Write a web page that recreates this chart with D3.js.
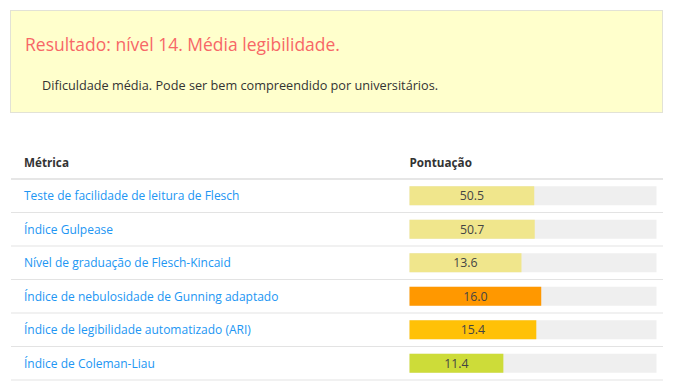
<!DOCTYPE html>
<html>
<head>
<meta charset="utf-8">
<script src="https://cdn.jsdelivr.net/npm/d3@7"></script>
<style>
body { margin: 0; background: #fff; }
text { font-family: "Segoe UI", "Open Sans", "Noto Sans", sans-serif; }
</style>
</head>
<body>
<div id="chart"></div>
<script>
var metrics = [
	"Teste de facilidade de leitura de Flesch",
	"Índice Gulpease",
	"Nível de graduação de Flesch-Kincaid",
	"Índice de nebulosidade de Gunning adaptado",
	"Índice de legibilidade automatizado (ARI)",
	"Índice de Coleman-Liau"
];
var scores = [50.5, 50.7, 13.6, 16.0, 15.4, 11.4];
var scoreLabels = ["50.5", "50.7", "13.6", "16.0", "15.4", "11.4"];
var scoreMax = [100, 100, 30, 30, 30, 30];
var barColors = ["#f0e68c", "#f0e68c", "#f0e68c", "#ff9800", "#ffc107", "#cddc39"];

var titleText = "Resultado: nível 14. Média legibilidade.";
var subtitleText = "Dificuldade média. Pode ser bem compreendido por universitários.";
var headers = ["Métrica", "Pontuação"];

var width = 674, height = 392;
var svg = d3.select("#chart").append("svg")
	.attr("width", width)
	.attr("height", height);

// result box
svg.append("rect")
	.attr("x", 10.5).attr("y", 10.5)
	.attr("width", 652).attr("height", 102)
	.attr("fill", "#ffffcc")
	.attr("stroke", "#e2e2d6");

svg.append("text")
	.attr("x", 25).attr("y", 50.5)
	.attr("font-size", 17.5)
	.attr("fill", "#f76767")
	.text(titleText);

svg.append("text")
	.attr("x", 42).attr("y", 90)
	.attr("font-size", 12.7)
	.attr("fill", "#333")
	.text(subtitleText);

// table
var tableLeft = 11, tableRight = 663;
var barLeft = 409.5, barWidth = 247, barHeight = 19;

var y = d3.scaleBand()
	.domain(metrics)
	.range([179, 380])
	.padding(0);

var g = svg.append("g");

g.append("text").attr("x", 24).attr("y", 166.5)
	.attr("font-size", 11.7).attr("font-weight", "bold").attr("fill", "#333")
	.text(headers[0]);
g.append("text").attr("x", barLeft).attr("y", 166.5)
	.attr("font-size", 11.7).attr("font-weight", "bold").attr("fill", "#333")
	.text(headers[1]);

g.append("line")
	.attr("x1", tableLeft).attr("x2", tableRight)
	.attr("y1", 179).attr("y2", 179)
	.attr("stroke", "#e6e6e6").attr("stroke-width", 2);

var rows = g.selectAll(".row")
	.data(metrics)
	.enter().append("g")
	.attr("class", "row")
	.attr("transform", function(d) { return "translate(0," + y(d) + ")"; });

rows.append("line")
	.attr("x1", tableLeft).attr("x2", tableRight)
	.attr("y1", y.bandwidth()).attr("y2", y.bandwidth())
	.attr("stroke", "#e3e3e3").attr("stroke-width", 1);

rows.append("text")
	.attr("x", 24)
	.attr("y", y.bandwidth() / 2 + 4.5)
	.attr("font-size", 12)
	.attr("fill", "#2196f3")
	.text(function(d) { return d; });

rows.append("rect")
	.attr("class", "track")
	.attr("x", barLeft)
	.attr("y", (y.bandwidth() - barHeight) / 2)
	.attr("width", barWidth)
	.attr("height", barHeight)
	.attr("fill", "#efefef");

rows.append("rect")
	.attr("class", "bar")
	.attr("x", barLeft)
	.attr("y", (y.bandwidth() - barHeight) / 2)
	.attr("height", barHeight)
	.attr("width", function(d, i) {
		var x = d3.scaleLinear().domain([0, scoreMax[i]]).range([0, barWidth]);
		return x(scores[i]);
	})
	.attr("fill", function(d, i) { return barColors[i]; });

rows.append("text")
	.attr("text-anchor", "middle")
	.attr("x", function(d, i) {
		var x = d3.scaleLinear().domain([0, scoreMax[i]]).range([0, barWidth]);
		return barLeft + x(scores[i]) / 2;
	})
	.attr("y", y.bandwidth() / 2 + 4.5)
	.attr("font-size", 12.3)
	.attr("fill", "#444")
	.text(function(d, i) { return scoreLabels[i]; });
</script>
</body>
</html>
